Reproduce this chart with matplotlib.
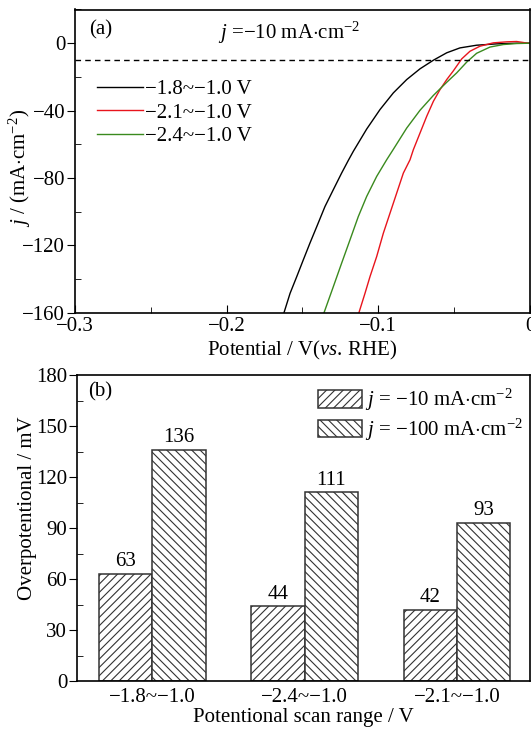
import matplotlib
matplotlib.use("Agg")
import matplotlib.pyplot as plt
import numpy as np
from matplotlib.ticker import MultipleLocator

plt.rcParams['font.family'] = ['Liberation Serif', 'DejaVu Serif']
plt.rcParams['mathtext.fontset'] = 'custom'
plt.rcParams['mathtext.rm'] = 'Liberation Serif'
plt.rcParams['mathtext.it'] = 'Liberation Serif:italic'
plt.rcParams['font.size'] = 15
plt.rcParams['hatch.linewidth'] = 0.8

# ---- panel (a) LSV data ----
v_18 = [-0.1622, -0.1582, -0.1538, -0.1495, -0.1451, -0.1406, -0.1352, -0.1297, -0.1242, -0.1198,
        -0.1165, -0.1077, -0.0989, -0.0901, -0.0813, -0.0725, -0.0637, -0.0549, -0.0462, -0.0352,
        -0.0220, -0.0088, 0.0]
j_18 = [-160, -148.5, -138.6, -128.7, -118.7, -108.9, -97.0, -87.0, -77.1, -69.6,
        -64.2, -51.0, -39.4, -29.5, -21.6, -15.2, -10.1, -5.7, -2.8, -1.2,
        -0.4, 0.0, 0.0]

v_21 = [-0.1128, -0.1088, -0.1055, -0.1011, -0.0967, -0.0923, -0.0879, -0.0835, -0.0791, -0.0769,
        -0.0725, -0.0681, -0.0637, -0.0593, -0.0549, -0.0506, -0.0450, -0.0396, -0.0330, -0.0242,
        -0.0154, -0.0088, 0.0]
j_21 = [-160, -148.5, -138.6, -126.7, -112.8, -100.9, -89.0, -77.1, -69.2, -63.2,
        -53.3, -43.4, -34.5, -27.5, -21.6, -16.5, -9.3, -4.8, -1.8, 0.2,
        0.8, 1.0, -0.2]

v_24 = [-0.1358, -0.1297, -0.1242, -0.1187, -0.1132, -0.1077, -0.1011, -0.0945, -0.0901, -0.0813,
        -0.0725, -0.0637, -0.0549, -0.0483, -0.0417, -0.0352, -0.0264, -0.0176, -0.0088, 0.0]
j_24 = [-160, -144.6, -130.6, -116.8, -102.9, -91.0, -79.1, -69.2, -63.0, -50.4,
        -39.8, -31.0, -23.2, -17.6, -11.2, -6.0, -2.3, -0.8, -0.2, 0.0]

labels_a = ['−1.8~−1.0 V', '−2.1~−1.0 V', '−2.4~−1.0 V']
colors_a = ['black', '#e8141c', '#3a8a1e']

# ---- panel (b) bar data ----
categories = ['−1.8~−1.0', '−2.4~−1.0', '−2.1~−1.0']
eta_10 = [63, 44, 42]
eta_100 = [136, 111, 93]

fig = plt.figure(figsize=(5.31, 7.29), dpi=100)
ax1 = fig.add_axes([75/531, 1-312.7/729, (530-75)/531, (312.7-9.5)/729])
ax2 = fig.add_axes([77/531, 1-681/729, (530-77)/531, (681-375)/729])

for v, j, lab, c in zip([v_18, v_21, v_24], [j_18, j_21, j_24], labels_a, colors_a):
    ax1.plot(v, j, color=c, lw=1.0, label=lab)
ax1.axhline(-10, color='black', ls=(0, (4, 3)), lw=1.0)
ax1.set_xlim(-0.3, 0.0)
ax1.set_ylim(-160, 20)
ax1.xaxis.set_minor_locator(MultipleLocator(0.05))
ax1.yaxis.set_minor_locator(MultipleLocator(20))
ax1.set_xticks([-0.3, -0.2, -0.1, 0.0])
ax1.set_xticklabels(['−0.3', '−0.2', '−0.1', '0'])
ax1.set_yticks([0, -40, -80, -120, -160])
ax1.set_yticklabels(['0', '−40', '−80', '−120', '−160'])
ax1.tick_params(axis='x', which='both', direction='in', top=False, labelsize=15, pad=3)
ax1.tick_params(axis='x', which='major', length=6)
ax1.tick_params(axis='x', which='minor', length=4)
ax1.tick_params(axis='y', which='major', direction='out', length=6, right=False,
                labelsize=15, pad=1)
ax1.tick_params(axis='y', which='minor', direction='in', length=4, right=False)
ax1.set_xlabel('Potential / V($vs$. RHE)', fontsize=15, labelpad=2)
ax1.set_ylabel(r'$j$ / (mA$\cdot$cm$^{-2}$)', fontsize=15)
ax1.yaxis.label.set_va('center')
ax1.yaxis.set_label_coords(-0.122, 0.478)
ax1.text(0.03, 0.965, '(a)', transform=ax1.transAxes, fontsize=15, va='top')
ax1.text(0.47, 0.965, r'$j$ =−10 mA$\cdot$cm$^{-2}$', transform=ax1.transAxes,
         fontsize=15, va='top', ha='center')
ax1.legend(loc='upper left', bbox_to_anchor=(0.048, 0.768), frameon=False,
           handlelength=2.2, handletextpad=0.1, labelspacing=0.18, fontsize=15,
           borderaxespad=0, borderpad=0)

x = np.arange(len(categories))
w = 0.35
edge = '#333333'
ax2.bar(x - w/2, eta_10, w, facecolor='white', edgecolor=edge, hatch='////',
        lw=1.1, label=r'$j$ = −10 mA$\cdot$cm$^{-2}$')
ax2.bar(x + w/2, eta_100, w, facecolor='white', edgecolor=edge, hatch='\\\\\\\\',
        lw=1.1, label=r'$j$ = −100 mA$\cdot$cm$^{-2}$')
for xi, v in zip(x - w/2, eta_10):
    ax2.text(xi, v + 1.5, str(v), ha='center', va='bottom', fontsize=15)
for xi, v in zip(x + w/2, eta_100):
    ax2.text(xi, v + 1.5, str(v), ha='center', va='bottom', fontsize=15)
ax2.set_xlim(-0.495, 2.48)
ax2.set_ylim(0, 180)
ax2.yaxis.set_major_locator(MultipleLocator(30))
ax2.yaxis.set_minor_locator(MultipleLocator(15))
ax2.set_xticks(x)
ax2.set_xticklabels(categories)
ax2.tick_params(axis='x', length=0, labelsize=15, pad=5)
ax2.tick_params(axis='y', which='major', direction='out', length=6, right=False,
                labelsize=15, pad=1)
ax2.tick_params(axis='y', which='minor', direction='in', length=4, right=False)
ax2.set_xlabel('Potentional scan range / V', fontsize=15, labelpad=1)
ax2.set_ylabel('Overpotentional / mV', fontsize=15)
ax2.yaxis.label.set_va('center')
ax2.yaxis.set_label_coords(-0.11, 0.565)
ax2.text(0.025, 0.975, '(b)', transform=ax2.transAxes, fontsize=15, va='top')
ax2.legend(loc='upper left', bbox_to_anchor=(0.532, 0.96), frameon=False,
           handlelength=2.1, handleheight=0.9, handletextpad=0.15, labelspacing=0.15,
           fontsize=15, borderaxespad=0, borderpad=0)

for ax in (ax1, ax2):
    for s in ax.spines.values():
        s.set_linewidth(1.2)

fig.savefig('out.png', dpi=100)
